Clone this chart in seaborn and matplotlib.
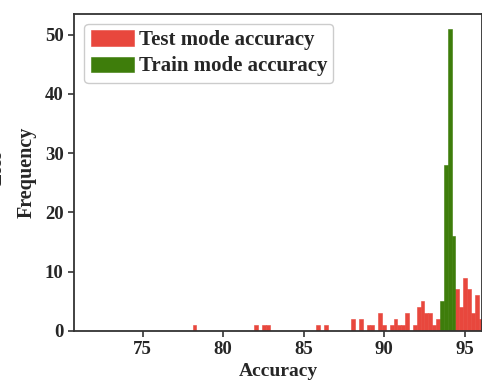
import numpy as np
import pandas as pd
import matplotlib
matplotlib.use("Agg")
import matplotlib.pyplot as plt
import seaborn as sns

# ---- data (bin centres of accuracy, counts) ----
test_acc = [78.22, 82.06, 82.54, 82.78, 85.90, 86.38,
            88.06, 88.54, 89.02, 89.26, 89.74, 89.98,
            90.46, 90.70, 90.94, 91.18, 91.42, 91.90,
            92.14, 92.38, 92.62, 92.86, 93.10, 93.34,
            94.54, 94.78, 95.02, 95.26, 95.50, 95.74, 95.98]
test_cnt = [1, 1, 1, 1, 1, 1,
            2, 2, 1, 1, 3, 1,
            1, 2, 1, 1, 3, 1,
            4, 5, 3, 3, 1, 2,
            7, 4, 9, 7, 3, 6, 2]
train_acc = [93.58, 93.82, 94.06, 94.30]
train_cnt = [5, 28, 51, 16]

labels = ["Test mode accuracy", "Train mode accuracy"]
colors = ["#e8473d", "#3e7d0b"]
bin_start, bin_width, n_bins = 77.86, 0.24, 80

df = pd.DataFrame({
    "acc": test_acc + train_acc,
    "cnt": test_cnt + train_cnt,
    "mode": [labels[0]] * len(test_acc) + [labels[1]] * len(train_acc),
})

sns.set_theme(style="ticks")
plt.rcParams["font.family"] = ["Liberation Serif", "DejaVu Serif"]
plt.rcParams["font.weight"] = "bold"

fig = plt.figure(figsize=(4.82, 3.86), dpi=100)
ax = fig.add_axes([0.1535, 0.1425, 0.8475, 0.8225])

for lab, col in zip(labels, colors):
    sub = df[df["mode"] == lab]
    sns.histplot(data=sub, x="acc", weights="cnt", binwidth=bin_width,
                 binrange=(bin_start, bin_start + bin_width * n_bins), ax=ax,
                 color=col, alpha=1.0, edgecolor=col, linewidth=0.4,
                 label=lab)

ax.set_xlim(70.74, 96.1)
ax.set_ylim(0, 53.55)
ax.set_xticks([75, 80, 85, 90, 95])
ax.set_yticks([0, 10, 20, 30, 40, 50])
ax.tick_params(axis="both", labelsize=13.5, length=4, width=1.2, color="#333333")
for lbl in ax.get_xticklabels() + ax.get_yticklabels():
    lbl.set_fontweight("bold")
for s in ax.spines.values():
    s.set_linewidth(1.3)
    s.set_color("#333333")

ax.set_xlabel("Accuracy", fontsize=14, fontweight="bold", labelpad=3)
ax.set_ylabel("Frequency", fontsize=14.5, fontweight="bold", labelpad=6)

leg = ax.legend(loc="upper left", prop={"weight": "bold", "size": 15},
                handlelength=2.1, handleheight=0.75, handletextpad=0.2,
                borderaxespad=0.5, labelspacing=0.3, borderpad=0.3,
                fancybox=True, framealpha=1.0, edgecolor="#cccccc")

fig.text(-0.006, 0.567, "Loss", rotation=90, ha="center", va="center",
         fontsize=13, fontweight="bold")

fig.savefig("out.png", dpi=100)
